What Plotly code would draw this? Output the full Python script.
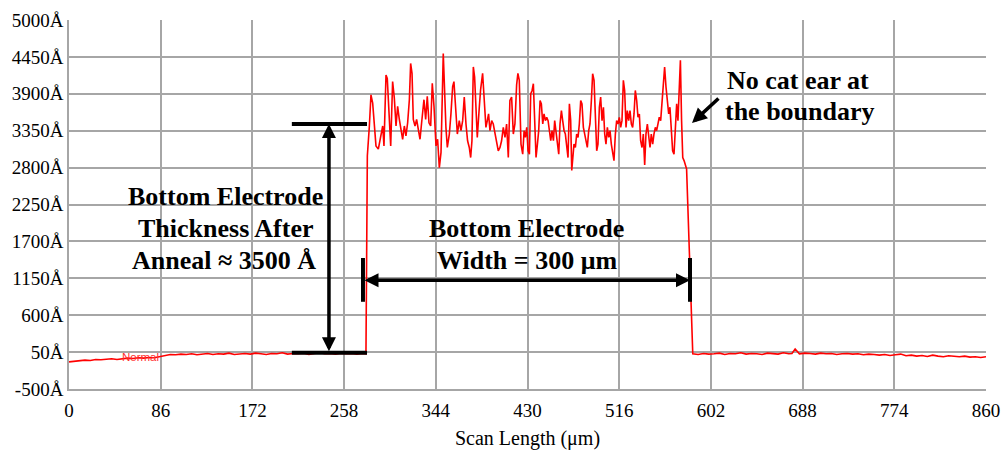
import plotly.graph_objects as go

# ---- profile data: scan position (um) and step height (Angstrom) ----
base_left_x = [0, 5, 10, 15, 20, 25, 30, 35, 40, 45, 50, 55, 60, 65, 70, 75, 80, 85,
               90, 95, 100, 105, 110, 115, 120, 125, 130, 135, 140, 145, 150, 155, 160,
               165, 170, 175, 180, 185, 190, 195, 200, 205, 210, 215, 220, 225, 230,
               235, 240, 245, 250, 255, 260, 265, 270, 275, 278.5]
base_left_y = [-95, -85, -80, -70, -75, -60, -65, -55, -50, -60, -45, -40, -45, -35, -40,
               -30, -35, -20, 5, 15, 10, 20, 15, 25, 10, 20, 30, 15, 25, 20, 35, 15, 25,
               30, 20, 35, 25, 15, 30, 25, 40, 20, 30, 25, 35, 15, 30, 40, 25, 30, 20,
               35, 25, 30, 20, 30, 25]

plateau_x = [279.8, 281.7, 283.2, 284.8, 286.0, 287.9, 290.1, 292.3, 294.2, 295.4, 297.3,
             298.5, 300.4, 301.7, 303.5, 305.1, 306.7, 308.2, 309.8, 311.4, 312.9, 314.5,
             316.0, 317.6, 319.2, 320.4, 321.7, 322.9, 324.5, 326.0, 327.6, 329.2, 330.7,
             332.9, 334.5, 336.0, 337.6, 339.2, 340.7, 342.3, 344.2, 345.7, 347.3, 348.9,
             351.0, 352.3, 353.5, 354.8, 356.7, 358.2, 359.8, 361.0, 362.3, 364.2, 366.0,
             367.6, 369.2, 370.7, 372.3, 373.8, 375.4, 376.7, 377.9, 379.2, 380.4, 381.7,
             382.9, 384.8, 386.0, 387.9, 389.2, 391.0, 392.3, 393.5, 394.8, 396.4, 397.9,
             399.5, 401.0, 402.6, 404.2, 405.7, 407.3, 408.9, 410.4, 412.0, 413.5, 415.1,
             416.7, 418.2, 419.8, 421.0, 422.3, 423.9, 425.5, 426.8, 428.0, 429.3, 430.5,
             431.8, 433.0, 434.3, 435.5, 436.8, 438.0, 439.3, 440.5, 441.8, 443.0, 444.3,
             445.5, 446.8, 448.0, 449.3, 450.5, 451.8, 453.0, 454.3, 455.5, 456.8, 458.0,
             459.3, 460.5, 461.8, 463.0, 464.3, 465.5, 466.8, 468.0, 469.3, 470.5, 471.5,
             472.4, 473.6, 474.9, 476.1, 477.4, 478.6, 479.9, 481.1, 482.4, 483.6, 484.9,
             486.1, 487.4, 488.6, 489.9, 491.1, 492.4, 493.6, 494.9, 496.1, 497.4, 498.6,
             499.9, 501.2, 502.4, 503.6, 504.9, 506.1, 507.4, 508.6, 509.9, 511.1, 512.4,
             513.6, 514.9, 516.1, 517.4, 518.6, 519.9, 521.1, 522.4, 523.6, 524.9, 526.1,
             527.4, 528.6, 529.9, 531.1, 532.4, 533.6, 534.9, 536.1, 537.4, 538.6, 539.9,
             541.1, 542.4, 543.6, 544.9, 546.1, 547.4, 548.6, 549.9, 551.1, 552.4, 553.6,
             554.9, 556.1, 557.4, 558.6, 559.9, 561.1, 562.4, 563.6, 564.9, 566.1, 567.4,
             568.6, 569.9, 571.1, 572.4, 573.4, 574.5, 575.6, 576.9, 578.0, 578.8]
plateau_y = [2977, 3420, 3885, 3760, 3517, 3124, 3075, 3272, 3420, 3124, 4180,
             4130, 3468, 3124, 4082, 3836, 3420, 3714, 3517, 3320, 3222, 3420,
             3272, 3468, 3812, 4352, 4205, 3517, 3420, 3517, 3370, 3222, 3468,
             3812, 3517, 3861, 3468, 3420, 4057, 3714, 3124, 3222, 2800, 3026,
             4500, 3900, 3400, 3100, 3300, 3600, 4008, 4082, 3750, 3300, 3500,
             3350, 3500, 3850, 3450, 3200, 3100, 2950, 3200, 4300, 4150, 3600,
             3250, 3700, 3959, 4205, 3800, 3400, 3500, 3600, 3350, 3500, 3450,
             3300, 3150, 3050, 3100, 3200, 3400, 3250, 3450, 2950, 3800, 3850,
             3300, 3450, 4033, 4205, 4100, 3150, 3000, 3350, 3250, 3400, 3050,
             3000, 3900, 3950, 4050, 3300, 2950, 3150, 3350, 3800, 3750, 3450,
             3600, 3500, 3550, 3500, 3300, 3200, 3350, 3200, 3500, 3300, 3150,
             3000, 3450, 3650, 3500, 3350, 3300, 3100, 2950, 3750, 3500, 2756,
             2950, 3150, 3100, 3300, 3250, 3450, 3800, 3750, 3400, 3300, 3200,
             3100, 3350, 3450, 3800, 4200, 4100, 3600, 3050, 3150, 3700, 3850,
             3500, 3700, 3300, 3150, 3400, 3250, 3350, 3150, 3000, 2903, 3300,
             3500, 3450, 3550, 3400, 3500, 4100, 3950, 3400, 3650, 3500, 3650,
             3450, 3400, 3600, 3950, 3800, 3550, 3600, 3200, 3100, 3300, 2840,
             3300, 3450, 3250, 3100, 3300, 3150, 3300, 3400, 3350, 3450, 3550,
             3500, 3800, 3950, 4300, 4000, 3800, 3600, 3700, 3350, 3050, 3000,
             3400, 3750, 3500, 4100, 4400, 3500, 2950, 2900, 2850, 2800, 2780]

base_right_x = [579.2, 585, 590, 595, 600, 605, 610, 615, 620, 625, 630, 635, 640, 645,
                650, 655, 660, 665, 670, 675, 678, 681, 685, 690, 695, 700, 705, 710, 715,
                720, 725, 730, 735, 740, 745, 750, 755, 760, 765, 770, 775, 780, 785, 790,
                795, 800, 805, 810, 815, 820, 825, 830, 835, 840, 845, 850, 855, 860]
base_right_y = [25, 15, 30, 20, 25, 35, 15, 30, 25, 40, 20, 30, 25, 15,
                35, 30, 20, 40, 25, 30, 95, 25, 35, 30, 20, 35, 25, 30, 15,
                25, 30, 20, 25, 10, 20, 15, 5, 15, 0, 10, 20, -5, 5, -10,
                0, -15, 5, -10, -20, -5, -15, -20, -10, -25, -20, -30, -20, -15]

x_ticks = [0, 86, 172, 258, 344, 430, 516, 602, 688, 774, 860]
y_ticks = [-500, 50, 600, 1150, 1700, 2250, 2800, 3350, 3900, 4450, 5000]
y_tick_text = [f"{v}Å" for v in y_ticks]

scan_x = base_left_x + plateau_x + base_right_x
height_y = base_left_y + plateau_y + base_right_y

SERIF = "Liberation Serif, Times New Roman, serif"
GRID = "#a6a6a6"

fig = go.Figure()
fig.add_trace(go.Scatter(x=scan_x, y=height_y, mode="lines",
                         line=dict(color="#ff0000", width=1.6), hoverinfo="skip"))

# thickness marker: two horizontal bars plus a double-headed vertical arrow
fig.add_shape(type="line", x0=209, x1=279.5, y0=3450, y1=3450,
              line=dict(color="black", width=4))
fig.add_shape(type="line", x0=209, x1=279.5, y0=40, y1=40,
              line=dict(color="black", width=4))
fig.add_annotation(x=243.8, y=3450, ax=243.8, ay=40, xref="x", yref="y",
                   axref="x", ayref="y", text="", showarrow=True, arrowhead=2,
                   arrowside="end+start", arrowsize=0.8, arrowwidth=3.5,
                   arrowcolor="black", standoff=0, startstandoff=0)

# width marker: two vertical ticks plus a double-headed horizontal arrow
fig.add_shape(type="line", x0=275.7, x1=275.7, y0=1453, y1=800,
              line=dict(color="black", width=4))
fig.add_shape(type="line", x0=582.4, x1=582.4, y0=1453, y1=800,
              line=dict(color="black", width=4))
fig.add_annotation(x=582.4, y=1120, ax=275.7, ay=1120, xref="x", yref="y",
                   axref="x", ayref="y", text="", showarrow=True, arrowhead=2,
                   arrowside="end+start", arrowsize=0.8, arrowwidth=3.5,
                   arrowcolor="black", standoff=0, startstandoff=0)

# pointer to the step edge
fig.add_annotation(x=584.3, y=3465, ax=610.5, ay=3852, xref="x", yref="y",
                   axref="x", ayref="y", text="", showarrow=True, arrowhead=2,
                   arrowsize=0.85, arrowwidth=3.5, arrowcolor="black")

label_font = dict(family=SERIF, size=26, color="black")
labels = [
    (147.2, 2362, "<b>Bottom Electrode</b>", "center"),
    (147.2, 1885, "<b>Thickness After</b>", "center"),
    (145.0, 1408, "<b>Anneal ≈ 3500 Å</b>", "center"),
    (429.5, 1885, "<b>Bottom Electrode</b>", "center"),
    (429.5, 1408, "<b>Width = 300 μm</b>", "center"),
    (615.2, 4091, "<b>No cat ear at</b>", "left"),
    (613.3, 3629, "<b>the boundary</b>", "left"),
]
for lx, ly, txt, anchor in labels:
    fig.add_annotation(x=lx, y=ly, xref="x", yref="y", text=txt, showarrow=False,
                       xanchor=anchor, yanchor="middle", font=label_font)

fig.add_annotation(x=67.5, y=-20, xref="x", yref="y", text="Normal", showarrow=False,
                   font=dict(family="Liberation Sans, Arial", size=11.5, color="#ff3030"),
                   xanchor="center", yanchor="middle")

fig.update_layout(
    width=1002, height=450,
    margin=dict(l=69, r=16, t=20, b=61, autoexpand=False),
    paper_bgcolor="white", plot_bgcolor="white",
    showlegend=False,
    xaxis=dict(range=[0, 860], tickvals=x_ticks, showgrid=True, gridcolor=GRID,
               gridwidth=1.6, showline=True, linecolor=GRID, linewidth=1.6,
               zeroline=False, ticks="", automargin=False, ticklabelstandoff=3,
               tickfont=dict(family=SERIF, size=19, color="black"),
               title=dict(text="Scan Length (μm)", font=dict(family=SERIF, size=20, color="black"),
                          standoff=14)),
    yaxis=dict(range=[-500, 5000], tickvals=y_ticks, ticktext=y_tick_text, showgrid=True,
               gridcolor=GRID, gridwidth=1.6, showline=True, linecolor=GRID, linewidth=1.6,
               zeroline=False, ticks="", automargin=False,
               tickfont=dict(family=SERIF, size=19, color="black")),
)

fig.write_html("out.html")
